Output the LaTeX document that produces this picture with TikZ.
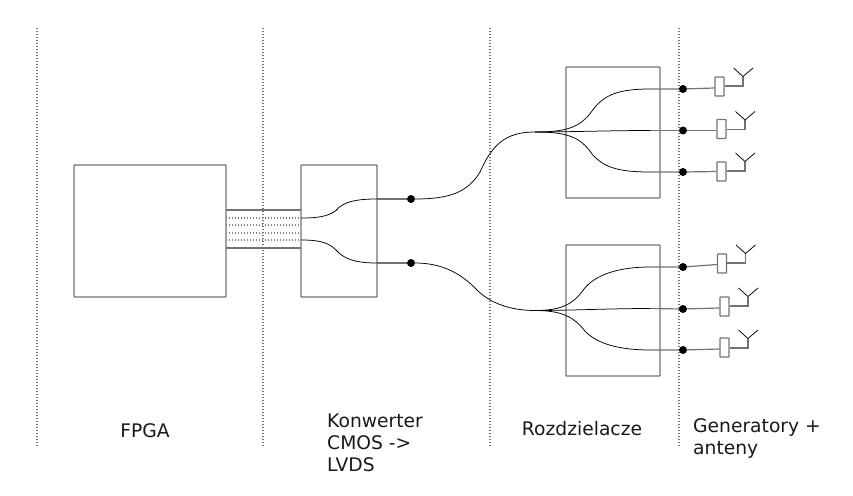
\documentclass[tikz,border=0pt]{standalone}
\usepackage{fontspec}
\setmainfont{DejaVu Sans}
\tikzset{
 every picture/.style={x=1pt,y=-1pt},
 sepline/.style={black!55,dash pattern=on 1.4pt off 1.6pt,line width=1.3pt},
 innerdots/.style={black!50,dash pattern=on 1.4pt off 1.6pt,line width=1.1pt},
 frame/.style={draw=black!55,line width=1.2pt,inner sep=0pt,rounded corners=0.5pt},
 bus/.style={draw=black!55,line width=1.2pt},
 fine/.style={black,line width=0.75pt},
 junction/.style={circle,fill=black,inner sep=0pt,minimum size=8pt},
 lab/.style={font=\fontsize{18.7}{22}\selectfont,text=black!90,inner sep=0pt,align=left},
 gen/.style={draw=black!55,line width=1.2pt,minimum width=9pt,minimum height=19pt,inner sep=0pt,rounded corners=0.5pt},
}
\newcommand{\antenna}[4]{% name, box x, box y, stem y
 \node[gen] (#1box) at (#2+4.5,#3) {};
 \coordinate (#1k) at (#2+28,#4);
 \coordinate (#1f) at (#2+28,#4-9.5);
 \draw[bus] (#1box.east |- #1k) -- (#1k) -- (#1f);
 \draw[fine] (#2+18.5,#4-18) -- (#1f) -- (#2+38,#4-18);
}
\begin{document}
\begin{tikzpicture}
\useasboundingbox (0,0) rectangle (853,495);
\foreach \x in {37,263,490,679} \draw[sepline] (\x,28) -- (\x,446);
\node[frame,minimum width=152pt,minimum height=132pt] (fpga) at (150,231) {};
\node[frame,minimum width=76pt,minimum height=132pt] (conv) at (339,231) {};
\node[frame,minimum width=94pt,minimum height=131pt] (s1) at (613,132.5) {};
\node[frame,minimum width=94pt,minimum height=131pt] (s2) at (613,310.5) {};
\draw[bus] (226,210) -- (301,210) (226,248) -- (301,248);
\foreach \y in {218,225,233,240} \draw[innerdots] (226,\y) -- (301,\y);
\coordinate (c1) at (301,218);\coordinate (c2) at (301,240);
\coordinate (e1) at (377,199);\coordinate (e2) at (377,263);
\node[junction] (d1) at (411,199) {};
\node[junction] (d2) at (411,263) {};
\draw[fine] (c1) .. controls (318,218) and (328,216.5) .. (336,210.5) .. controls (343,202) and (355,199) .. (e1);
\draw[fine] (c2) .. controls (318,240) and (328,242) .. (336,250) .. controls (344,259) and (355,263) .. (e2);
\draw[bus] (e1) -- (d1) (e2) -- (d2);
\coordinate (h1) at (535,132);\coordinate (h2) at (535,310.5);
\draw[fine] (d1) .. controls (450,199) and (468,192) .. (480,172) .. controls (492,145) and (505,132) .. (h1);
\draw[fine] (d2) .. controls (440,263) and (460,272) .. (477,290) .. controls (490,303) and (510,310.5) .. (h2);
% upper splitter
\coordinate (ua) at (650,89);\coordinate (ub) at (650,130.5);\coordinate (uc) at (650,172);
\draw[fine] (h1) .. controls (565,132) and (580,128) .. (592,111) .. controls (604,94) and (620,89) .. (ua);
\draw[fine] (h1) .. controls (570,132) and (610,130.5) .. (ub);
\draw[fine] (h1) .. controls (565,132) and (580,136) .. (592,154) .. controls (604,168) and (620,172) .. (uc);
% lower splitter
\coordinate (la) at (650,267);\coordinate (lb) at (650,308.5);\coordinate (lc) at (650,350);
\draw[fine] (h2) .. controls (560,310.5) and (573,305) .. (584,289) .. controls (596,274) and (620,267) .. (la);
\draw[fine] (h2) .. controls (570,310.5) and (610,308.5) .. (lb);
\draw[fine] (h2) .. controls (560,310.5) and (573,316) .. (584,330) .. controls (596,344) and (620,350) .. (lc);
\node[junction] (uda) at (683,89) {};
\node[junction] (udb) at (683,130.5) {};
\node[junction] (udc) at (683,172) {};
\node[junction] (lda) at (683,267) {};
\node[junction] (ldb) at (683,309) {};
\node[junction] (ldc) at (683,350) {};
\antenna{aua}{715}{86.5}{86}
\antenna{aub}{717}{129}{129.5}
\antenna{auc}{717}{171.5}{171}
\antenna{ala}{717.5}{263.5}{263}
\antenna{alb}{720}{306.5}{306}
\antenna{alc}{720}{347.5}{348}
\draw[bus] (ua) -- (uda) -- (auabox.west |- 0,88);
\draw[bus] (ub) -- (udb) -- (aubbox.west |- udb);
\draw[bus] (uc) -- (udc) -- (aucbox.west |- 0,171.5);
\draw[bus] (la) -- (lda) -- (alabox.west |- 0,264.5);
\draw[bus] (lb) -- (ldb) -- (albbox.west |- 0,308);
\draw[bus] (lc) -- (ldc) -- (alcbox.west |- 0,349);
\node[lab,anchor=base] (t1) at (145,437) {FPGA};
\node[lab,anchor=north west] (t2) at (327,414) {Konwerter\\CMOS ->\\LVDS};
\node[lab,anchor=base] (t3) at (582,435) {Rozdzielacze};
\node[lab,anchor=north west] (t4) at (693,418) {Generatory +\\anteny};
\end{tikzpicture}
\end{document}
